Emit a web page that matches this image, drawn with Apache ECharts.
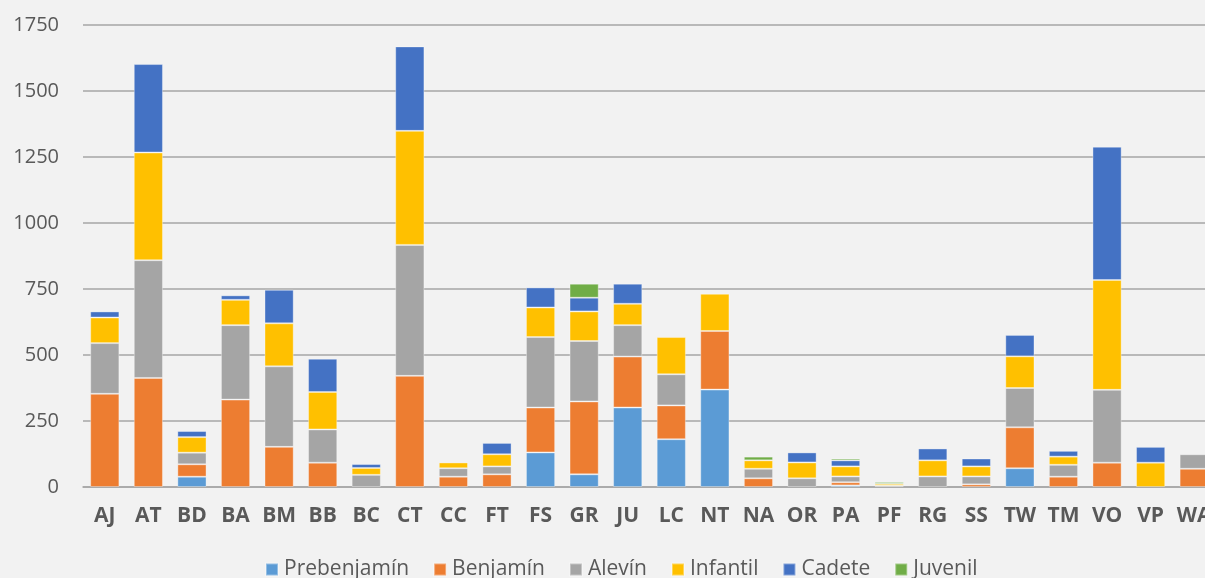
<!DOCTYPE html>
<html>
<head>
<meta charset="utf-8">
<script src="https://cdn.jsdelivr.net/npm/echarts@6/dist/echarts.min.js"></script>
<style>
  html, body { margin: 0; padding: 0; background: #f2f2f2; }
  #chart { width: 1205px; height: 578px; }
</style>
</head>
<body>
<div id="chart"></div>
<script>
  // clubes
  const categories = ['AJ','AT','BD','BA','BM','BB','BC','CT','CC','FT','FS','GR','JU','LC','NT','NA','OR','PA','PF','RG','SS','TW','TM','VO','VP','WA'];

  // una lista por categoria de edad
  const prebenjamin = [0, 0, 39, 0, 0, 0, 0, 0, 0, 0, 131, 48, 301, 181, 369, 0, 0, 6, 0, 0, 0, 71, 0, 0, 0, 0];
  const benjamin    = [353, 413, 47, 331, 152, 92, 0, 421, 39, 48, 170, 276, 193, 128, 222, 33, 0, 12, 0, 0, 10, 155, 39, 92, 0, 69];
  const alevin      = [192, 446, 44, 282, 305, 126, 46, 496, 32, 30, 267, 229, 119, 118, 0, 36, 33, 22, 5, 40, 30, 149, 45, 276, 0, 55];
  const infantil    = [97, 408, 59, 96, 163, 142, 26, 432, 22, 46, 112, 112, 81, 141, 141, 32, 60, 38, 7, 61, 38, 120, 31, 416, 92, 0];
  const cadete      = [23, 335, 23, 17, 127, 126, 15, 320, 0, 43, 76, 52, 76, 0, 0, 0, 38, 23, 0, 45, 30, 81, 22, 505, 60, 0];
  const juvenil     = [0, 0, 0, 0, 0, 0, 0, 0, 0, 0, 0, 53, 0, 0, 0, 14, 0, 7, 7, 0, 0, 0, 0, 0, 0, 0];

  const yTicks = [0, 250, 500, 750, 1000, 1250, 1500, 1750];

  const seriesDefs = [
    { name: 'Prebenjamín', data: prebenjamin, color: '#5b9bd5' },
    { name: 'Benjamín', data: benjamin, color: '#ed7d31' },
    { name: 'Alevín', data: alevin, color: '#a5a5a5' },
    { name: 'Infantil', data: infantil, color: '#ffc000' },
    { name: 'Cadete', data: cadete, color: '#4472c4' },
    { name: 'Juvenil', data: juvenil, color: '#70ad47' }
  ];

  const chart = echarts.init(document.getElementById('chart'));
  const option = {
    backgroundColor: '#f2f2f2',
    animation: false,
    // el grafico original sigue un poco fuera del borde derecho
    grid: { left: 83, width: 1133, top: 25, bottom: 91, outerBoundsMode: 'none' },
    legend: {
      left: 265,
      top: 559,
      padding: 0,
      itemWidth: 12,
      itemHeight: 12,
      itemGap: 24,
      icon: 'rect',
      textStyle: { fontFamily: 'Open Sans', fontSize: 21, color: '#595959', padding: [0, 0, 0, 1] },
      data: seriesDefs.map(s => s.name)
    },
    xAxis: {
      type: 'category',
      data: categories,
      axisTick: { show: false },
      axisLine: { lineStyle: { color: '#a6a6a6', width: 1.5 } },
      axisLabel: {
        interval: 0,
        margin: 19,
        fontFamily: 'Open Sans',
        fontWeight: 'bold',
        fontSize: 21,
        color: '#595959'
      }
    },
    yAxis: {
      type: 'value',
      min: yTicks[0],
      max: yTicks[yTicks.length - 1],
      interval: 250,
      axisLine: { show: false },
      axisTick: { show: false },
      splitLine: { lineStyle: { color: '#a6a6a6', width: 1.5 } },
      axisLabel: {
        margin: 24,
        formatter: v => String(v),
        fontFamily: 'Open Sans',
        fontSize: 20,
        color: '#595959'
      }
    },
    series: seriesDefs.map(s => ({
      name: s.name,
      type: 'bar',
      stack: 'total',
      barCategoryGap: '33%',
      data: s.data.map(v => v === 0 ? '-' : v),
      itemStyle: {
        color: s.color,
        borderColor: 'rgba(255,255,255,0.35)',
        borderWidth: 1
      }
    }))
  };
  chart.setOption(option);
</script>
</body>
</html>
